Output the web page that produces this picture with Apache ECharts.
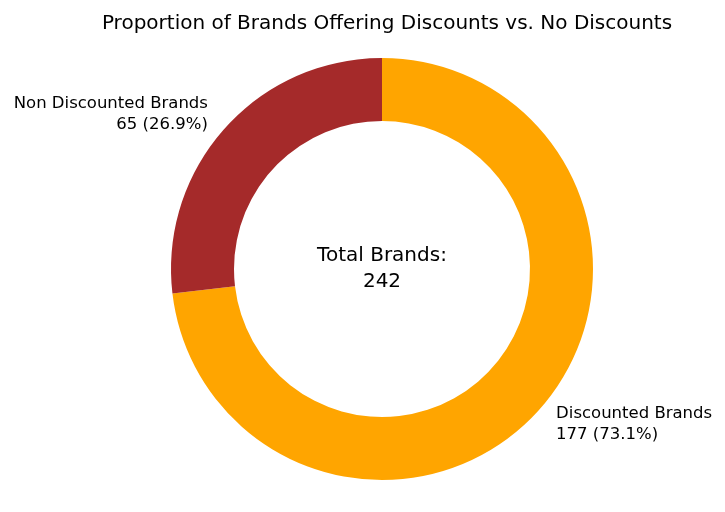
<!DOCTYPE html>
<html>
<head>
<meta charset="utf-8">
<script src="https://cdn.jsdelivr.net/npm/echarts@6/dist/echarts.min.js"></script>
<style>html,body{margin:0;padding:0;background:#fff}#c{width:725px;height:512px}</style>
</head>
<body>
<div id="c"></div>
<script>
const categories = ['Discounted Brands', 'Non Discounted Brands'];
const counts = [177, 65];
const colors = ['#FFA500', '#A52A2A'];
const titleText = 'Proportion of Brands Offering Discounts vs. No Discounts';

const total = counts.reduce((a, b) => a + b, 0);
const chart = echarts.init(document.getElementById('c'));
chart.setOption({
  animation: false,
  backgroundColor: '#fff',
  title: {
    text: titleText,
    left: 382, top: 9, textAlign: 'center',
    textStyle: { fontFamily: 'DejaVu Sans', fontSize: 20, fontWeight: 'normal', color: '#000' }
  },
  graphic: [{
    type: 'text',
    x: 382, y: 269,
    style: {
      text: 'Total Brands:\n' + total,
      fontFamily: 'DejaVu Sans', fontSize: 20, fill: '#000',
      align: 'center', verticalAlign: 'middle', lineHeight: 26
    }
  }],
  series: [{
    type: 'pie',
    center: [382, 269],
    radius: [148, 211],
    startAngle: 90,
    clockwise: true,
    avoidLabelOverlap: false,
    label: {
      show: true, position: 'outside',
      formatter: p => p.name + '\n' + p.value + ' (' + (p.value / total * 100).toFixed(1) + '%)',
      fontFamily: 'DejaVu Sans', fontSize: 16.5, color: '#000', lineHeight: 21,
      padding: [6, 0, 0, 0]
    },
    labelLine: { show: false, length: 22, length2: -5 },
    itemStyle: { borderWidth: 0 },
    emphasis: { disabled: true },
    data: categories.map((n, i) => ({ name: n, value: counts[i], itemStyle: { color: colors[i] } }))
  }]
});
</script>
</body>
</html>
